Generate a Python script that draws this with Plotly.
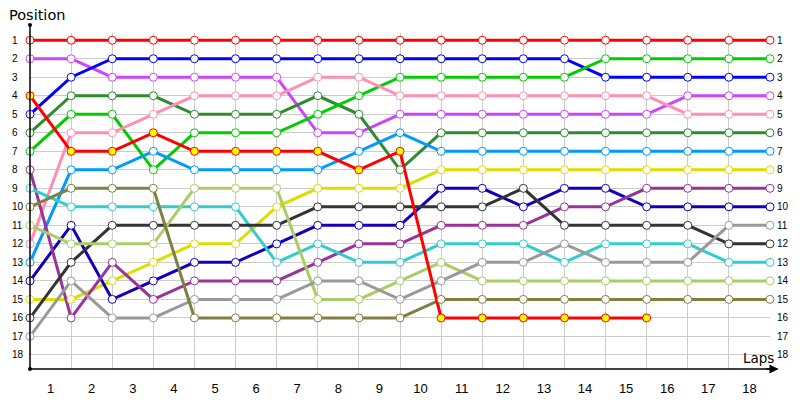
import plotly.graph_objects as go

# lap chart: position of each car after every lap (lap 0 = grid)
laps = list(range(19))
lap_labels = [str(i) for i in range(1, 19)]
positions = list(range(1, 19))

red = [1, 1, 1, 1, 1, 1, 1, 1, 1, 1, 1, 1, 1, 1, 1, 1, 1, 1, 1]
violet = [2, 2, 3, 3, 3, 3, 3, 6, 6, 5, 5, 5, 5, 5, 5, 5, 4, 4, 4]
blue = [5, 3, 2, 2, 2, 2, 2, 2, 2, 2, 2, 2, 2, 2, 3, 3, 3, 3, 3]
dark_green = [6, 4, 4, 4, 5, 5, 5, 4, 5, 8, 6, 6, 6, 6, 6, 6, 6, 6, 6]
green = [7, 5, 5, 8, 6, 6, 6, 5, 4, 3, 3, 3, 3, 3, 2, 2, 2, 2, 2]
pink = [12, 6, 6, 5, 4, 4, 4, 3, 3, 4, 4, 4, 4, 4, 4, 4, 5, 5, 5]
light_blue = [13, 8, 8, 7, 8, 8, 8, 8, 7, 6, 7, 7, 7, 7, 7, 7, 7, 7, 7]
yellow = [15, 15, 14, 13, 12, 12, 10, 9, 9, 9, 8, 8, 8, 8, 8, 8, 8, 8, 8]
navy = [14, 11, 15, 14, 13, 13, 12, 11, 11, 11, 9, 9, 10, 9, 9, 10, 10, 10, 10]
purple = [8, 16, 13, 15, 14, 14, 14, 13, 12, 12, 11, 11, 11, 10, 10, 9, 9, 9, 9]
cyan = [9, 10, 10, 10, 10, 10, 13, 12, 13, 13, 12, 12, 12, 13, 12, 12, 12, 13, 13]
dark_gray = [16, 13, 11, 11, 11, 11, 11, 10, 10, 10, 10, 10, 9, 11, 11, 11, 11, 12, 12]
light_green = [11, 12, 12, 12, 9, 9, 9, 15, 15, 14, 13, 14, 14, 14, 14, 14, 14, 14, 14]
gray = [17, 14, 16, 16, 15, 15, 15, 14, 14, 15, 14, 13, 13, 12, 13, 13, 13, 11, 11]
olive = [10, 9, 9, 9, 16, 16, 16, 16, 16, 16, 15, 15, 15, 15, 15, 15, 15, 15, 15]
red_yellow = [4, 7, 7, 6, 7, 7, 7, 7, 8, 7, 16, 16, 16, 16, 16, 16]  # retired after lap 15

# (values, line colour, marker fill)
cars = [
    (red, '#FF0000', 'white'),
    (violet, '#CC44FF', 'white'),
    (blue, '#0000FF', 'white'),
    (dark_green, '#2E8B2E', 'white'),
    (green, '#00CC00', 'white'),
    (pink, '#FF8FB0', 'white'),
    (light_blue, '#0099FF', 'white'),
    (yellow, '#DDDD00', 'white'),
    (navy, '#1100BB', 'white'),
    (purple, '#993399', 'white'),
    (cyan, '#33CCCC', 'white'),
    (dark_gray, '#333333', 'white'),
    (light_green, '#AACC66', 'white'),
    (gray, '#999999', 'white'),
    (olive, '#808040', 'white'),
    (red_yellow, '#FF0000', '#FFFF00'),
]

fig = go.Figure()

# lines first, then the markers so every circle sits on top
for vals, col, fill in cars:
    fig.add_trace(go.Scatter(x=laps[:len(vals)], y=vals, mode='lines',
                             line=dict(color=col, width=3),
                             cliponaxis=False, hoverinfo='skip'))
for vals, col, fill in cars:
    fig.add_trace(go.Scatter(x=laps[:len(vals)], y=vals, mode='markers',
                             marker=dict(size=8, color=fill, line=dict(color=col, width=1)),
                             cliponaxis=False))

# position labels on both sides
annotations = []
for p in positions:
    annotations.append(dict(x=-0.027, y=p, xref='paper', yref='y', text=str(p), showarrow=False,
                            xanchor='left', font=dict(family='Liberation Sans', size=10, color='#000000')))
    annotations.append(dict(x=1.0065, y=p, xref='paper', yref='y', text=str(p), showarrow=False,
                            xanchor='left', font=dict(family='Liberation Sans', size=10, color='#000000')))

annotations.append(dict(x=-0.031, y=1.0526, xref='paper', yref='paper', text='Position', showarrow=False,
                        xanchor='left', yanchor='middle',
                        font=dict(family='DejaVu Sans', size=14.5, color='#000000')))
annotations.append(dict(x=0.9605, y=0.034, xref='paper', yref='paper', text='Laps', showarrow=False,
                        xanchor='left', yanchor='middle',
                        font=dict(family='DejaVu Sans', size=13.5, color='#000000')))
# arrow at the end of the x axis
annotations.append(dict(x=1.0115, y=0, xref='paper', yref='paper', ax=-14, ay=0, text='',
                        showarrow=True, arrowhead=2, arrowsize=1.2, arrowwidth=1.5, arrowcolor='#000000'))

shapes = [
    dict(type='line', xref='paper', yref='paper', x0=0, x1=1.01, y0=0, y1=0,
         line=dict(color='#000000', width=1.5)),
    dict(type='line', xref='paper', yref='paper', x0=0, x1=0, y0=0, y1=1.024,
         line=dict(color='#000000', width=1.5)),
    dict(type='circle', xref='paper', yref='paper', xsizemode='pixel', ysizemode='pixel',
         xanchor=0, yanchor=1.024, x0=-2, x1=2, y0=-2, y1=2, fillcolor='#000000', line=dict(width=0)),
    dict(type='circle', xref='paper', yref='paper', xsizemode='pixel', ysizemode='pixel',
         xanchor=0, yanchor=0, x0=-2, x1=2, y0=-2, y1=2, fillcolor='#000000', line=dict(width=0)),
]

# the page body adds an 8px offset, so margins are shifted to compensate
fig.update_layout(
    width=800, height=400,
    margin=dict(l=22, r=38, t=25, b=33),
    paper_bgcolor='white', plot_bgcolor='white',
    showlegend=False,
    annotations=annotations,
    shapes=shapes,
    xaxis=dict(range=[0, 18], tickvals=[i - 0.5 for i in range(1, 19)], ticktext=lap_labels,
               showgrid=False, zeroline=False, ticks='', showline=False, ticklabelstandoff=10,
               tickfont=dict(family='Liberation Sans', size=13, color='#000000'),
               minor=dict(tickvals=laps, showgrid=True, gridcolor='#CCCCCC', gridwidth=1)),
    yaxis=dict(range=[18.76, 0.61], tickvals=positions, showticklabels=False,
               showgrid=True, gridcolor='#CCCCCC', gridwidth=1, zeroline=False, ticks=''),
)

fig.write_html("out.html")
